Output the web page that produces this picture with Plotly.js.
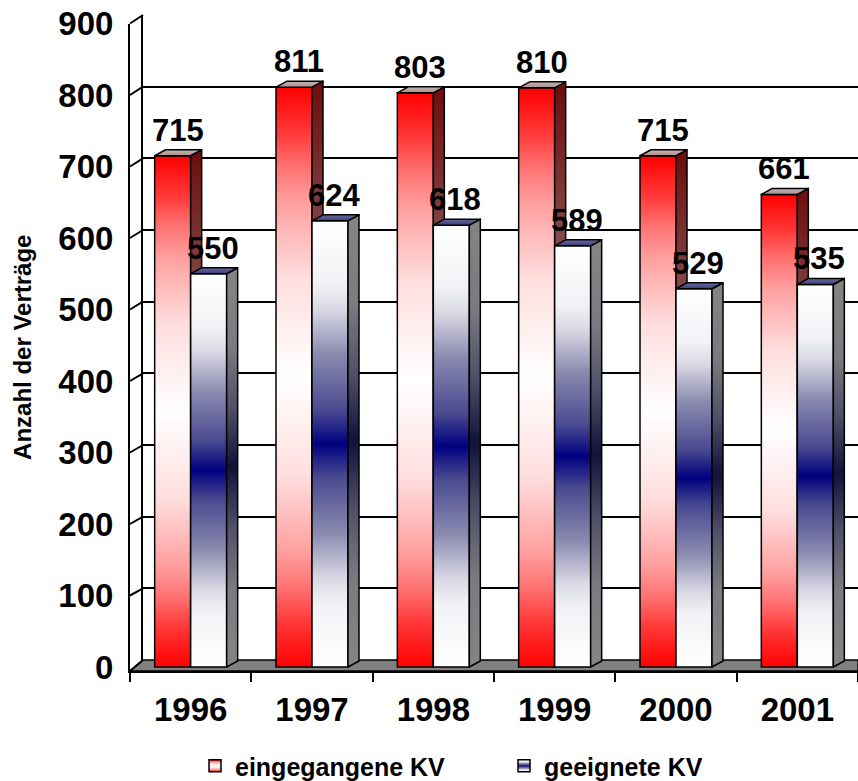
<!DOCTYPE html>
<html>
<head>
<meta charset="utf-8">
<script src="https://cdn.plot.ly/plotly-3.0.1.min.js"></script>
<style>html,body{margin:0;padding:0;background:#fff;}#chart{width:858px;height:781px;}</style>
</head>
<body>
<div id="chart"></div>
<script>
// ---- data ----
const years = ['1996', '1997', '1998', '1999', '2000', '2001'];
const eingegangen = [715, 811, 803, 810, 715, 661];
const geeignet = [550, 624, 618, 589, 529, 535];
const yTicks = [0, 100, 200, 300, 400, 500, 600, 700, 800, 900];
const seriesNames = ['eingegangene KV', 'geeignete KV'];

// ---- geometry helpers (layout only) ----
const W = 858, H = 781;
const M = {l: 130, r: 0, t: 15, b: 110, autoexpand: false};
const PW = W - M.l - M.r, PH = H - M.t - M.b;
const depthX = 13, depthY = 11;
const frontZeroPx = 4;
const frontTopPx = 23.5;
const yMax = 900;
const frontDomTop = (H - M.b - frontTopPx) / PH;
const unitsPerPx = yMax / ((H - M.b - frontZeroPx) - frontTopPx);
const frontRange = [-frontZeroPx * unitsPerPx, yMax];
const backDom = [depthY / PH, 1];
const backXDom = [depthX / PW, 1];
function frontPaperY(v) { return (v - frontRange[0]) / (frontRange[1] - frontRange[0]) * frontDomTop; }
function backPaperY(v) { return backDom[0] + v / yMax * (backDom[1] - backDom[0]); }

const FONT = 'Arial, "Liberation Sans", sans-serif';

const traces = [
  {type: 'scatter', x: [], y: [], xaxis: 'x', yaxis: 'y', showlegend: false, hoverinfo: 'skip'},
  {type: 'bar', name: seriesNames[0], x: years, y: eingegangen, xaxis: 'x2', yaxis: 'y2',
   marker: {color: '#ff0000', line: {color: '#000', width: 1.5}}, hoverinfo: 'x+y'},
  {type: 'bar', name: seriesNames[1], x: years, y: geeignet, xaxis: 'x2', yaxis: 'y2',
   marker: {color: '#ffffff', line: {color: '#000', width: 1.5}}, hoverinfo: 'x+y'}
];

const shapes = [];
const fb = backPaperY(0);
shapes.push({type: 'path', xref: 'paper', yref: 'paper', layer: 'below',
  path: `M 0,0 L 1,0 L 1,${fb} L ${backXDom[0]},${fb} Z`,
  fillcolor: '#808080', line: {color: '#000', width: 1.5}});
yTicks.forEach(v => {
  shapes.push({type: 'line', xref: 'paper', yref: 'paper', layer: 'below',
    x0: 0, x1: backXDom[0], y0: v === 0 ? 0 : frontPaperY(v), y1: backPaperY(v),
    line: {color: '#000', width: 2}});
});

const annotations = [];
years.forEach((yr, i) => {
  annotations.push({xref: 'x2', yref: 'y2', x: i, y: eingegangen[i], text: String(eingegangen[i]),
    showarrow: false, yanchor: 'bottom', xanchor: 'center', xshift: -13, yshift: 6,
    font: {family: FONT, size: 31, color: '#000', weight: 'bold'}});
  annotations.push({xref: 'x2', yref: 'y2', x: i, y: geeignet[i], text: String(geeignet[i]),
    showarrow: false, yanchor: 'bottom', xanchor: 'center', xshift: 22, yshift: 6,
    font: {family: FONT, size: 31, color: '#000', weight: 'bold'}});
});

const layout = {
  width: W, height: H,
  margin: M,
  paper_bgcolor: '#fff', plot_bgcolor: 'rgba(0,0,0,0)',
  font: {family: FONT, color: '#000'},
  barmode: 'group', bargap: 1 - 72 / (PW / years.length), bargroupgap: 0,
  xaxis: {domain: backXDom, range: [-0.5, 5.5], visible: false, fixedrange: true, anchor: 'y'},
  yaxis: {domain: backDom, range: [0, yMax], anchor: 'x', tickvals: yTicks, showticklabels: false,
    ticks: '', showgrid: true, gridcolor: '#000', gridwidth: 2, zeroline: false,
    showline: true, linecolor: '#000', linewidth: 2, fixedrange: true},
  xaxis2: {domain: [0, 1], anchor: 'y2', type: 'category', range: [-0.5, 5.5],
    tickson: 'boundaries', ticks: 'outside', ticklen: 9, tickwidth: 2, tickcolor: '#000',
    showline: true, linecolor: '#000', linewidth: 2, showgrid: false, zeroline: false,
    ticklabelstandoff: 8,
    tickfont: {family: FONT, size: 33, color: '#000', weight: 'bold'}, fixedrange: true},
  yaxis2: {domain: [0, frontDomTop], anchor: 'x2', range: frontRange, tickvals: yTicks,
    ticktext: yTicks.map(String), ticks: '', showgrid: false, zeroline: false,
    showline: true, linecolor: '#000', linewidth: 2, ticklabelstandoff: 8,
    tickfont: {family: FONT, size: 33, color: '#000', weight: 'bold'},
    title: {text: 'Anzahl der Verträge', standoff: 20,
      font: {family: FONT, size: 24, color: '#000', weight: 'bold'}}, fixedrange: true},
  shapes: shapes,
  annotations: annotations,
  showlegend: true,
  legend: {orientation: 'h', x: (195 - M.l) / PW, xanchor: 'left', y: -0.145, yanchor: 'middle',
    entrywidth: 264, entrywidthmode: 'pixels', traceorder: 'normal',
    font: {family: FONT, size: 25, color: '#000', weight: 'bold'}, bgcolor: 'rgba(0,0,0,0)'}
};

const gd = document.getElementById('chart');
Plotly.newPlot(gd, traces, layout, {displayModeBar: false, responsive: false}).then(() => {
  const NS = 'http://www.w3.org/2000/svg';
  const svg = gd.querySelector('svg.main-svg');
  let defs = svg.querySelector('defs');
  if (!defs) { defs = document.createElementNS(NS, 'defs'); svg.insertBefore(defs, svg.firstChild); }
  function grad(id, stops) {
    const g = document.createElementNS(NS, 'linearGradient');
    g.setAttribute('id', id);
    g.setAttribute('x1', '0'); g.setAttribute('y1', '0'); g.setAttribute('x2', '0'); g.setAttribute('y2', '1');
    stops.forEach(([o, c]) => {
      const s = document.createElementNS(NS, 'stop');
      s.setAttribute('offset', o); s.setAttribute('stop-color', c);
      g.appendChild(s);
    });
    defs.appendChild(g);
  }
  function mirror(half) {
    const out = half.slice();
    for (let i = half.length - 2; i >= 0; i--) out.push([1 - half[i][0], half[i][1]]);
    return out;
  }
  grad('gRedFront', mirror([[0, '#ff0000'], [0.08, '#ff3a3a'], [0.135, '#ff7070'], [0.2, '#ffa0a0'], [0.33, '#ffdede'], [0.5, '#ffffff']]));
  grad('gBlueFront', mirror([[0, '#ffffff'], [0.14, '#f2f2f6'], [0.2, '#d8d8e4'], [0.3, '#8a8ab0'], [0.425, '#4a4a90'], [0.5, '#000080']]));
  grad('gRedSide', mirror([[0, '#6e0c0c'], [0.3, '#865050'], [0.5, '#8a7c7c']]));
  grad('gBlueSide', mirror([[0, '#858585'], [0.2, '#7a7a80'], [0.35, '#505068'], [0.5, '#12123a']]));
  grad('gRedTop', [[0, '#c8b4b4'], [1, '#a89090']]);
  grad('gBlueTop', [[0, '#6a6aa0'], [1, '#3c3c7c']]);

  const cfg = [
    {front: 'gRedFront', side: 'gRedSide', top: 'gRedTop'},
    {front: 'gBlueFront', side: 'gBlueSide', top: 'gBlueTop'}
  ];
  const dx = 11, dy = 6;
  const barTraces = gd.querySelectorAll('.barlayer .trace.bars');
  barTraces.forEach((tr, ti) => {
    const c = cfg[ti];
    tr.querySelectorAll('.point').forEach(pt => {
      const p = pt.querySelector('path');
      if (!p) return;
      const b = p.getBBox();
      p.style.fill = `url(#${c.front})`;
      const x = b.x, y = b.y, w = b.width, h = b.height;
      const side = document.createElementNS(NS, 'polygon');
      side.setAttribute('points', `${x + w},${y} ${x + w + dx},${y - dy} ${x + w + dx},${y + h - dy} ${x + w},${y + h}`);
      side.setAttribute('style', `fill:url(#${c.side});stroke:#000;stroke-width:1.5;stroke-linejoin:round`);
      const top = document.createElementNS(NS, 'polygon');
      top.setAttribute('points', `${x},${y} ${x + dx},${y - dy} ${x + w + dx},${y - dy} ${x + w},${y}`);
      top.setAttribute('style', `fill:url(#${c.top});stroke:#000;stroke-width:1.5;stroke-linejoin:round`);
      pt.appendChild(side);
      pt.appendChild(top);
    });
  });
  const legTraces = gd.querySelectorAll('.legend .traces');
  legTraces.forEach((lt, i) => {
    const c = cfg[i];
    if (!c) return;
    lt.querySelectorAll('.legendpoints path').forEach(p => { p.style.fill = `url(#${c.front})`; });
  });
});
</script>
</body>
</html>
